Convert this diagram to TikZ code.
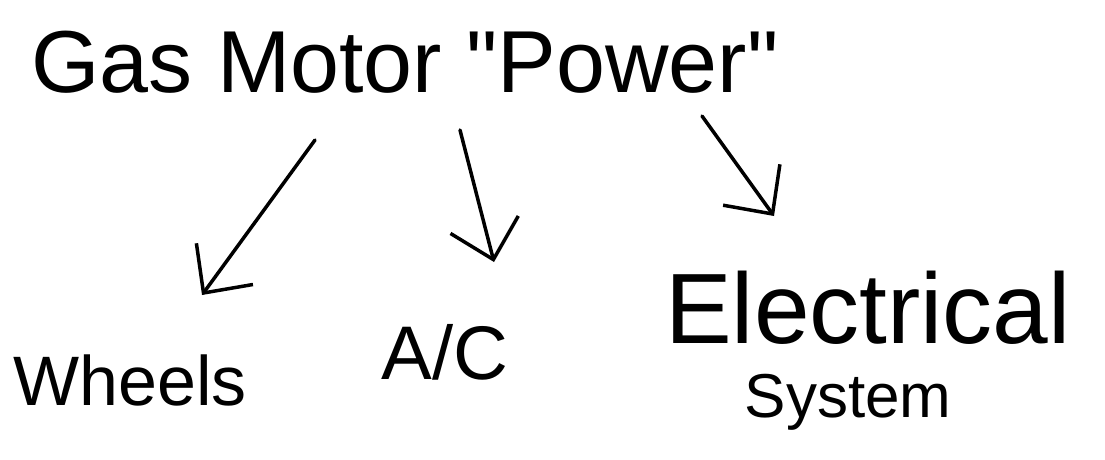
\documentclass[tikz,border=0pt]{standalone}
\usepackage{fontspec}
\setmainfont{Liberation Sans}
\usetikzlibrary{arrows.meta}
\begin{document}
\begin{tikzpicture}[x=1pt,y=-1pt,
  label/.style={inner sep=0pt, anchor=center},
  flow/.style={line width=3.5pt, line cap=round, line join=round,
    -{Straight Barb[length=36pt,width=70pt,line width=3.5pt]}}]
\useasboundingbox[fill=white] (0,0) rectangle (1105,459);
% heading and the three consumers
\node[label, font=\fontsize{88}{100}\selectfont] (power) at (405,62) {Gas Motor \textquotedbl Power\textquotedbl};
\node[label, font=\fontsize{70}{80}\selectfont] (wheels) at (130,380) {Wheels};
\node[label, font=\fontsize{76}{90}\selectfont] (ac) at (445,352) {A/C};
\node[label, font=\fontsize{100}{110}\selectfont] (elec) at (868,308) {Electrical};
\node[label, font=\fontsize{62}{70}\selectfont] (sys) at (848,402) {System};
% arrow end points
\coordinate (a1s) at (315,140); \coordinate (a1e) at (202,295);
\coordinate (a2s) at (460,130); \coordinate (a2e) at (494,262);
\coordinate (a3s) at (702,116); \coordinate (a3e) at (774,216);
\draw[flow] (a1s) -- (a1e);
\draw[flow] (a2s) -- (a2e);
\draw[flow] (a3s) -- (a3e);
\end{tikzpicture}
\end{document}
